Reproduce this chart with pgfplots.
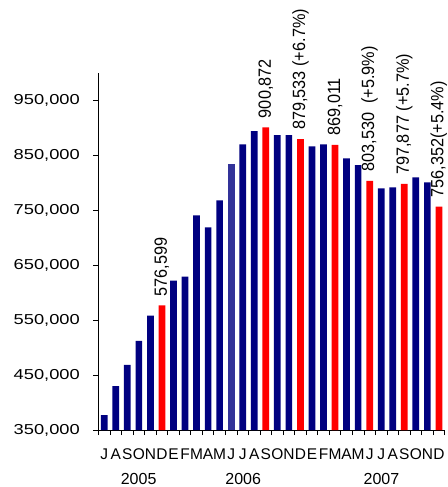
\documentclass[border=0pt]{standalone}
\usepackage{pgfplots}
\pgfplotsset{compat=1.18}
\usepackage{fontspec}
\setmainfont{Liberation Sans}
\newfontfamily\wideface[FakeStretch=1.27]{Liberation Sans}
\newfontfamily\narrowface[FakeStretch=0.92]{Liberation Sans}
\definecolor{barnavy}{RGB}{0,0,128}
\definecolor{barred}{RGB}{255,0,0}
\definecolor{barslate}{RGB}{51,51,153}

\begin{document}
\begin{tikzpicture}
\begin{axis}[
  at={(0pt,0pt)}, anchor=south west,
  scale only axis, width=346.3pt, height=357.3pt,
  xmin=-0.5, xmax=29.5, ymin=350000, ymax=1000000,
  clip=false,
  axis x line*=bottom, axis y line*=left,
  axis line style={-, line width=0.8pt, black},
  tick align=outside,
  major tick length=5pt, minor tick length=5pt,
  every tick/.style={black, line width=0.8pt},
  xtick={0,...,29},
  xticklabels={J,A,S,O,N,D,E,F,M,A,M,J,J,A,S,O,N,D,E,F,M,A,M,J,J,A,S,O,N,D},
  major x tick style={draw=none},
  minor xtick={-0.5,0.5,...,29.5},
  ytick={350000,450000,550000,650000,750000,850000,950000},
  scaled y ticks=false,
  yticklabel style={font=\wideface\fontsize{14.4}{14.4}\selectfont, anchor=east, inner sep=0pt, xshift=-13.5pt},
  xticklabel style={font=\fontsize{15.5}{15.5}\selectfont, anchor=base, inner sep=0pt, yshift=-24.5pt},
  /pgf/number format/.cd, fixed, precision=0, 1000 sep={,}, assume math mode=true,
]
% monthly totals, July 2005 - December 2007
\addplot[ybar, bar width=6.7pt, bar shift=0pt, fill=barnavy, draw=none] coordinates {
  (0,377000) (1,430000) (2,468600) (3,512000) (4,558000)
  (6,622000) (7,629000) (8,740500) (9,718600) (10,768000)
  (12,870000) (13,894000) (15,886500) (16,886500)
  (18,866000) (19,870000) (21,844500) (22,832000)
  (24,789800) (25,791600) (27,809900) (28,800700)
};
\addplot[ybar, bar width=6.7pt, bar shift=0pt, fill=barslate, draw=none] coordinates {
  (11,834000)
};
% quarter-end months, labelled
\addplot[ybar, bar width=6.7pt, bar shift=0pt, fill=barred, draw=none,
  point meta=explicit symbolic, nodes near coords,
  every node near coord/.append style={font=\narrowface\fontsize{17.7}{17.7}\selectfont,
    rotate=90, anchor=west, inner xsep=9pt, inner ysep=0pt, black}] coordinates {
  (5,576599) [576,599]
  (14,900872) [900,872]
  (17,879533) [879,533 (+6.7\%)]
  (20,869011) [869,011]
  (23,803530) [803,530\ \ (+5.9\%)]
  (26,797877) [797,877 (+5.7\%)]
  (29,756352) [756,352(+5.4\%)]
};
\node[anchor=base, inner sep=0pt, font=\fontsize{16}{16}\selectfont, yshift=-54pt] at (axis cs:2.98,350000) {2005};
\node[anchor=base, inner sep=0pt, font=\fontsize{16}{16}\selectfont, yshift=-54pt] at (axis cs:12.04,350000) {2006};
\node[anchor=base, inner sep=0pt, font=\fontsize{16}{16}\selectfont, yshift=-54pt] at (axis cs:24.02,350000) {2007};
\end{axis}
\path (-98.5pt,-57pt) rectangle (348.5pt,430pt);
\end{tikzpicture}
\end{document}
